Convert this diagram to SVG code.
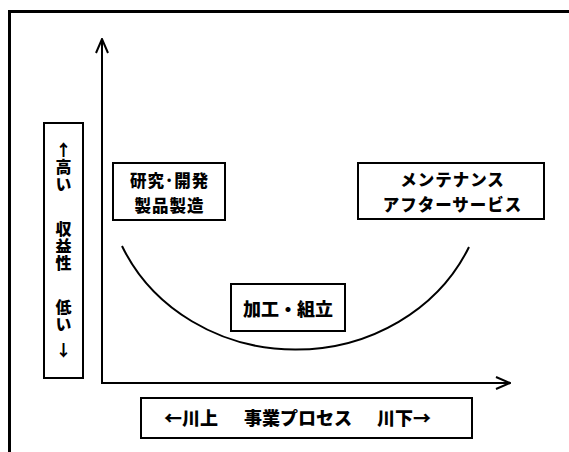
<svg xmlns="http://www.w3.org/2000/svg" width="569" height="452" viewBox="0 0 569 452">
<defs>
<style>
.frame{fill:none;stroke:#000;stroke-width:3}
.box{fill:#fff;stroke:#000;stroke-width:2}
.line{fill:none;stroke:#000;stroke-width:2}
.t{font-family:"Noto Sans CJK JP","Noto Sans CJK SC",sans-serif;font-weight:900;font-size:18px;fill:#000;text-anchor:middle;dominant-baseline:central}
.m{font-size:16.5px;letter-spacing:1px}
.v{font-size:16px;writing-mode:vertical-rl;text-orientation:upright;letter-spacing:1px}
</style>
<marker id="arr" viewBox="0 0 16 14" refX="15" refY="7" markerWidth="16" markerHeight="14" markerUnits="userSpaceOnUse" orient="auto">
<path d="M1,1 L15,7 L1,13" fill="none" stroke="#000" stroke-width="2"/>
</marker>
</defs>
<rect width="569" height="452" fill="#fff"/>
<rect class="frame" x="9.5" y="11.5" width="600" height="500"/>
<g id="connectors">
<path class="line" d="M102,383 L102,39" marker-end="url(#arr)"/>
<path class="line" d="M101,383 L510,383" marker-end="url(#arr)"/>
<path class="line" d="M122,246 A190,174 0 0 0 469,247"/>
</g>
<g id="yaxis-label">
<rect class="box" x="44" y="123" width="39" height="255"/>
<text class="t v" x="63.5" y="167">↑高い</text>
<text class="t v" x="63.5" y="246">収益性</text>
<text class="t v" x="63.5" y="316">低い</text>
<text class="t v" x="63.5" y="350">↓</text>
</g>
<g id="node-rd">
<rect class="box" x="113" y="163" width="112" height="57"/>
<text class="t m" x="169.5" y="180">研究･開発</text>
<text class="t m" x="169.5" y="204.5">製品製造</text>
</g>
<g id="node-assembly">
<rect class="box" x="231" y="284" width="114" height="47"/>
<text class="t" x="288" y="308">加工・組立</text>
</g>
<g id="node-service">
<rect class="box" x="358" y="163" width="186" height="56"/>
<text class="t m" x="452.5" y="179">メンテナンス</text>
<text class="t m" x="452.5" y="203.5">アフターサービス</text>
</g>
<g id="xaxis-label">
<rect class="box" x="141" y="398" width="331" height="40"/>
<text class="t" y="417" style="text-anchor:start"><tspan x="164">←川上</tspan><tspan x="244">事業プロセス</tspan><tspan x="377">川下→</tspan></text>
</g>
</svg>
